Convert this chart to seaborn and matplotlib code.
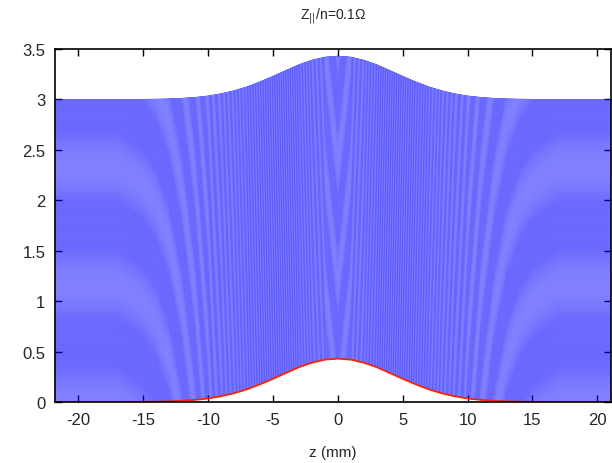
import numpy as np
import pandas as pd
import matplotlib
matplotlib.use("Agg")
import matplotlib.pyplot as plt
import seaborn as sns

z_mm = list(range(-22, 23))
profile = [0.0, 0.0, 0.0, 0.0, 0.0, 0.0, 0.0007, 0.0015, 0.0032, 0.0063,
           0.012, 0.021, 0.035, 0.057, 0.087, 0.126, 0.175, 0.230, 0.288,
           0.345, 0.390, 0.420, 0.430, 0.420, 0.390, 0.345, 0.288, 0.230,
           0.175, 0.126, 0.087, 0.057, 0.035, 0.021, 0.012, 0.0063, 0.0032,
           0.0015, 0.0007, 0.0, 0.0, 0.0, 0.0, 0.0, 0.0]

# one trace per recorded turn, stacked with a constant offset
n_turns = 301
offset_step = 0.01

x_ticks = [-20, -15, -10, -5, 0, 5, 10, 15, 20]
y_ticks = [0, 0.5, 1, 1.5, 2, 2.5, 3, 3.5]

rows = []
for t in range(n_turns):
    for z, h in zip(z_mm, profile):
        rows.append((t, z, h + t * offset_step))
df = pd.DataFrame(rows, columns=["turn", "z", "y"])

sns.set_style("ticks")
plt.rcParams["font.family"] = ["Liberation Sans", "DejaVu Sans"]

fig = plt.figure(figsize=(6.12, 4.64), dpi=100)
ax = fig.add_axes([55 / 612, 1 - 403 / 464, 556 / 612, 353 / 464])

sns.lineplot(data=df, x="z", y="y", units="turn", estimator=None,
             color="#0000ff", lw=0.42, ax=ax, legend=False)
first = df[df["turn"] == 0]
sns.lineplot(data=first, x="z", y="y", color="#ff2200", lw=1.3, ax=ax,
             legend=False)

ax.set_xlim(-21.8, 21.05)
ax.set_ylim(0, 3.5)
ax.set_xticks(x_ticks)
ax.set_xticklabels([str(v) for v in x_ticks])
ax.set_yticks(y_ticks)
ax.set_yticklabels(["0", "0.5", "1", "1.5", "2", "2.5", "3", "3.5"])
ax.tick_params(direction="in", top=True, right=True, length=5, width=1,
               labelsize=12, pad=7, color="black")
for s in ax.spines.values():
    s.set_linewidth(1.2)
    s.set_color("black")

ax.set_xlabel("z (mm)", fontsize=11, labelpad=13)
ax.set_ylabel("")
ax.set_title(r"Z$_{||}$/n=0.1Ω", fontsize=10, pad=22)

fig.savefig("out.png", dpi=100)
